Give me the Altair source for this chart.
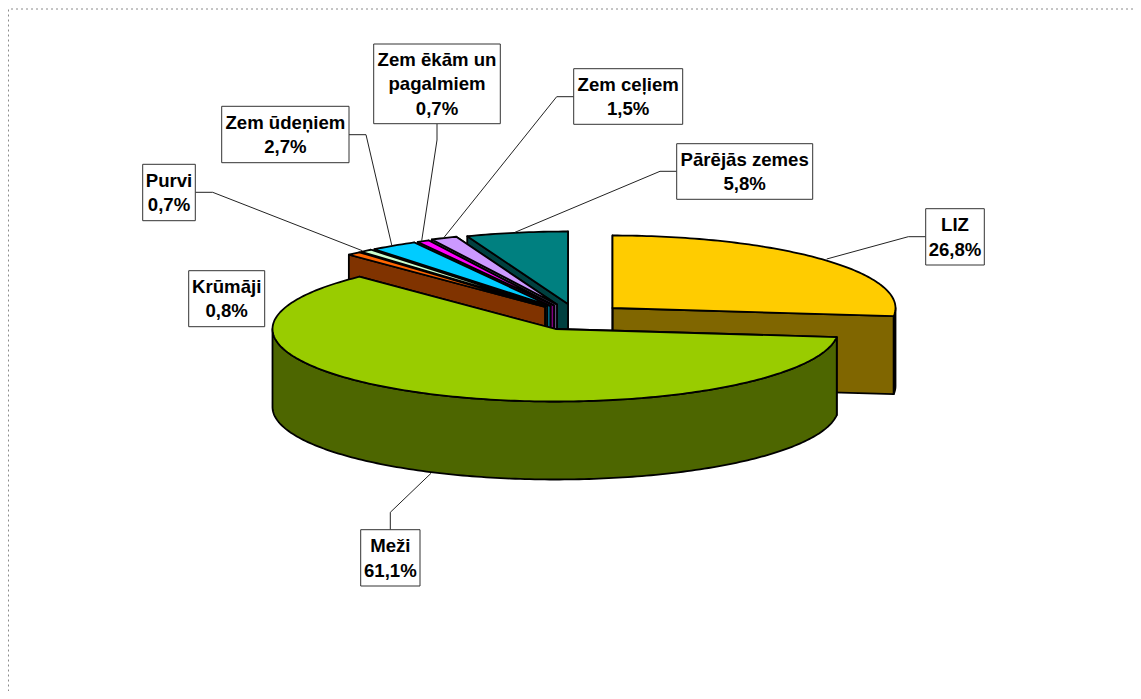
import math
import altair as alt

# ---- chart values ----
names = ["LIZ", "Meži", "Krūmāji", "Purvi", "Zem ūdeņiem", "Zem ēkām un pagalmiem", "Zem ceļiem", "Pārējās zemes"]
shares = [26.8, 61.1, 0.8, 0.7, 2.7, 0.7, 1.5, 5.8]
percent_text = ["26,8%", "61,1%", "0,8%", "0,7%", "2,7%", "0,7%", "1,5%", "5,8%"]
label_lines = [["LIZ"], ["Meži"], ["Krūmāji"], ["Purvi"], ["Zem ūdeņiem"], ["Zem ēkām un", "pagalmiem"], ["Zem ceļiem"], ["Pārējās zemes"]]
top_colors = ["#FFCC00", "#99CC00", "#FF6600", "#CCFFCC", "#00CCFF", "#FF00FF", "#CC99FF", "#008080"]
wall_colors = ["#806600", "#4D6600", "#803300", "#668066", "#006680", "#800080", "#664D80", "#004040"]

# ---- layout (image pixels) ----
OFF = 8
RX, RY, DEPTH = 283, 72.5, 78
apex = [(612.5, 308), (555.5, 329), (545, 307), (547, 306.5), (550.5, 306), (554, 305.5), (557, 304.5), (568, 304)]
boxes = [(925.7, 208.7, 984.3, 265), (360.7, 529.7, 420, 586), (188.7, 270.7, 264.7, 326.7),
         (142.7, 164.3, 195.3, 220.7), (221.7, 106.3, 349, 162.7), (373.7, 44, 500.3, 123.7),
         (573.7, 68.7, 682.7, 124.3), (676.7, 143.7, 812.7, 199.3)]
leaders = [[(925.7, 236.7), (908.3, 236.7), (826.7, 259)],
           [(390.3, 529.7), (390.3, 512.3), (431, 473.3)],
           None,
           [(195.3, 192.3), (212.7, 192.3), (362.3, 250.7)],
           [(349, 134.7), (366, 134.7), (391.7, 245)],
           [(437, 123.7), (437, 140), (421.7, 240.7)],
           [(573.7, 96.7), (556.7, 96.7), (443.3, 238.3)],
           [(676.7, 171.3), (660, 171.3), (515, 232.3)]]
LINE_H = 24.3
FONT = 18.6
EDGE = 1.8


def P(pts):
    return [[x - OFF, y - OFF] for x, y in pts]


def poly(pts, fill, stroke, sw):
    ring = P(pts)
    ring.append(ring[0])
    return {"type": "Feature", "geometry": {"type": "Polygon", "coordinates": [ring]},
            "properties": {"fill": fill, "stroke": stroke, "sw": sw}}


def line(pts, stroke, sw):
    return {"type": "Feature", "geometry": {"type": "LineString", "coordinates": P(pts)},
            "properties": {"stroke": stroke, "sw": sw}}


def rim(c, deg, dz=0):
    a = math.radians(deg)
    return (c[0] + RX * math.sin(a), c[1] - RY * math.cos(a) + dz)


def arc(c, a0, a1, dz=0):
    n = max(2, int(abs(a1 - a0)) + 2)
    return [rim(c, a0 + (a1 - a0) * i / (n - 1), dz) for i in range(n)]


total = sum(shares)
spans = []
acc = 0.0
for s in shares:
    spans.append((acc / total * 360, (acc + s) / total * 360))
    acc += s

# painter's order: back slices first, LIZ and Meži last
order = [7, 6, 5, 4, 3, 2, 0, 1]
features = []
BLACK = "#000000"
for i in order:
    a0, a1 = spans[i]
    c = apex[i]
    top, wall = top_colors[i], wall_colors[i]
    low = (c[0], c[1] + DEPTH)
    # cut faces
    for ang in (a1, a0):
        r = rim(c, ang)
        features.append(poly([c, r, (r[0], r[1] + DEPTH), low], wall, BLACK, EDGE))
    # visible outer wall
    f0, f1 = max(a0, 90), min(a1, 270)
    if f1 > f0:
        features.append(poly(arc(c, f0, f1) + arc(c, f1, f0, DEPTH), wall, BLACK, EDGE))
    # top face
    features.append(poly([c] + arc(c, a0, a1), top, BLACK, EDGE))

lines = []
for seg in leaders:
    if seg:
        lines.append(line(seg, "#222222", 1))

box_feats = [poly([(x0, y0), (x1, y0), (x1, y1), (x0, y1)], "#FFFFFF", "#333333", 1) for x0, y0, x1, y1 in boxes]

text_rows = []
for i, b in enumerate(boxes):
    rows = label_lines[i] + [percent_text[i]]
    cy = (b[1] + b[3]) / 2
    for k, t in enumerate(rows):
        text_rows.append({"lon": (b[0] + b[2]) / 2 - OFF,
                          "lat": cy + (k - (len(rows) - 1) / 2) * LINE_H - OFF + 0.5,
                          "t": t})

border = [line([(1133, 9), (8.5, 9), (8.5, 691)], "#8a8a8a", 1)]

proj = dict(type="identity", scale=1, translate=[0, 0])


def shapes(feats, filled=True, dash=None):
    kw = {"strokeJoin": "round"}
    if dash:
        kw["strokeDash"] = dash
    if filled:
        mark = alt.Chart(alt.Data(values=feats)).mark_geoshape(**kw).encode(
            fill=alt.Fill("properties.fill:N", scale=None),
            stroke=alt.Stroke("properties.stroke:N", scale=None),
            strokeWidth=alt.StrokeWidth("properties.sw:Q", scale=None),
        )
    else:
        mark = alt.Chart(alt.Data(values=feats)).mark_geoshape(filled=False, **kw).encode(
            stroke=alt.Stroke("properties.stroke:N", scale=None),
            strokeWidth=alt.StrokeWidth("properties.sw:Q", scale=None),
        )
    return mark.project(**proj)


labels = alt.Chart(alt.Data(values=text_rows)).mark_text(
    font="Liberation Sans", fontWeight="bold", fontSize=FONT, color="#000000", align="center", baseline="middle"
).encode(longitude="lon:Q", latitude="lat:Q", text="t:N").project(**proj)

chart = alt.layer(
    shapes(border, filled=False, dash=[2, 3]),
    shapes(features),
    shapes(lines, filled=False),
    shapes(box_feats),
    labels,
).properties(width=1125, height=683, padding=0, autosize=alt.AutoSizeParams(type="none"), background="#FFFFFF"
).configure_view(stroke=None)

chart.save("out.html", embed_options={"renderer": "svg", "actions": False})
